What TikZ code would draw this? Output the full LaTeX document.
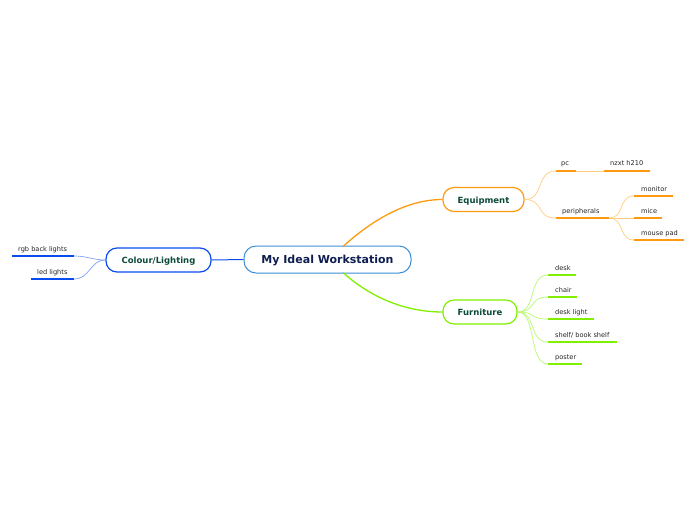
\documentclass[tikz,border=0pt]{standalone}
\usepackage{fontspec}
\setmainfont{DejaVu Sans}
\definecolor{cblue}{HTML}{3A8FD6}
\definecolor{lblue}{HTML}{0A4BF0}
\definecolor{lblueL}{HTML}{7FA0F8}
\definecolor{corange}{HTML}{FF9A10}
\definecolor{corangeL}{HTML}{FFCD80}
\definecolor{cgreen}{HTML}{80F000}
\definecolor{cgreenL}{HTML}{B8F870}
\definecolor{ttitle}{HTML}{0F1E50}
\definecolor{tmain}{HTML}{0B4A3A}
\definecolor{tleaf}{HTML}{222222}
\tikzset{
  centralbox/.style={draw=cblue, line width=1pt, rounded corners=12pt, fill=white, minimum width=167pt, minimum height=27pt, inner sep=0pt, text height=0.73em, text depth=0pt, text=ttitle, font=\fontsize{11}{13}\selectfont\bfseries},
  mainbox/.style={draw=#1, line width=1.2pt, rounded corners=11pt, fill=white, minimum height=24pt, inner sep=0pt, text height=0.73em, text depth=0pt, text=tmain, font=\fontsize{8.5}{10}\selectfont\bfseries},
  leaf/.style={anchor=base west, inner sep=0pt, text=tleaf, font=\fontsize{6.6}{8}\selectfont},
  uline/.style={draw=#1, line width=2pt},
  thin/.style={draw=#1, line width=0.7pt},
}
\begin{document}
\begin{tikzpicture}[x=1pt,y=-1pt]
\useasboundingbox (0,0) rectangle (696,520);
% main nodes
\node[centralbox] (c) at (327.5,259.5) {My Ideal Workstation};
\node[mainbox=lblue, minimum width=105pt] (col) at (158.5,260) {Colour/Lighting};
\node[mainbox=corange, minimum width=81pt] (eq) at (483.5,199.5) {Equipment};
\node[mainbox=cgreen, minimum width=74pt] (fu) at (480,312) {Furniture};
% central connectors
\coordinate (ctop) at (343,246.5);
\coordinate (cbot) at (343,272.5);
\draw[lblue, line width=1pt] (c.west) -- (col.east);
\draw[corange, line width=1.3pt] (ctop) .. controls (370,222) and (405,199.5) .. (eq.west);
\draw[cgreen, line width=1.3pt] (cbot) .. controls (370,297) and (405,312) .. (fu.west);
% Colour/Lighting leaves
\coordinate (rgbA) at (12,256); \coordinate (rgbB) at (74,256);
\coordinate (ledA) at (31,279); \coordinate (ledB) at (74,279);
\draw[uline=lblue] (rgbA) -- (rgbB);
\draw[uline=lblue] (ledA) -- (ledB);
\node[leaf] (rgbT) at (18,251) {rgb back lights};
\node[leaf] (ledT) at (37,274) {led lights};
\draw[thin=lblueL] (col.west) .. controls (92,260) and (88,256) .. (rgbB);
\draw[thin=lblueL] (col.west) .. controls (90,260) and (90,279) .. (ledB);
% Equipment leaves
\coordinate (pcA) at (556,171); \coordinate (pcB) at (576,171);
\coordinate (nzA) at (604,171); \coordinate (nzB) at (650,171);
\coordinate (peA) at (556,218); \coordinate (peB) at (609,218);
\coordinate (moA) at (634,196); \coordinate (moB) at (673,196);
\coordinate (miA) at (634,218); \coordinate (miB) at (662,218);
\coordinate (mpA) at (634,240); \coordinate (mpB) at (684,240);
\draw[thin=corangeL, line width=1pt] (pcB) -- (nzA);
\foreach \a/\b in {pcA/pcB,nzA/nzB,peA/peB,moA/moB,miA/miB,mpA/mpB} \draw[uline=corange] (\a) -- (\b);
\node[leaf] (pcT) at (561,165) {pc};
\node[leaf] (nzT) at (610,165) {nzxt h210};
\node[leaf] (peT) at (562,213) {peripherals};
\node[leaf] (moT) at (641,191) {monitor};
\node[leaf] (miT) at (641,213) {mice};
\node[leaf] (mpT) at (641,235) {mouse pad};
\draw[thin=corangeL] (eq.east) .. controls (545,199.5) and (535,171) .. (pcA);
\draw[thin=corangeL] (eq.east) .. controls (545,199.5) and (535,218) .. (peA);
\draw[thin=corangeL] (peB) .. controls (625,218) and (618,196) .. (moA);
\draw[thin=corangeL] (peB) -- (miA);
\draw[thin=corangeL] (peB) .. controls (625,218) and (618,240) .. (mpA);
% Furniture leaves
\coordinate (dkA) at (548,275); \coordinate (dkB) at (576,275);
\coordinate (chA) at (548,297); \coordinate (chB) at (577,297);
\coordinate (dlA) at (548,319); \coordinate (dlB) at (594,319);
\coordinate (shA) at (548,342); \coordinate (shB) at (617,342);
\coordinate (poA) at (548,364); \coordinate (poB) at (582,364);
\foreach \a/\b in {dkA/dkB,chA/chB,dlA/dlB,shA/shB,poA/poB} \draw[uline=cgreen] (\a) -- (\b);
\node[leaf] (dkT) at (555,270) {desk};
\node[leaf] (chT) at (555,292) {chair};
\node[leaf] (dlT) at (555,314) {desk light};
\node[leaf] (shT) at (555,337) {shelf/ book shelf};
\node[leaf] (poT) at (555,359) {poster};
\foreach \p/\yy in {dkA/275,chA/297,dlA/319,shA/342,poA/364}
  \draw[thin=cgreenL] (fu.east) .. controls (537,312) and (528,\yy) .. (\p);
\end{tikzpicture}
\end{document}
